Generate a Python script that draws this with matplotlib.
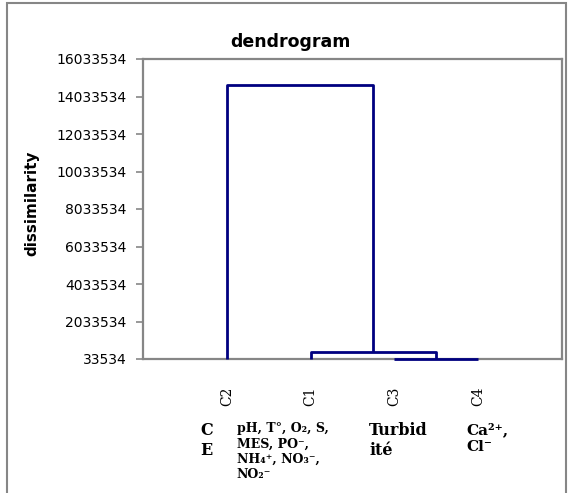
import matplotlib
matplotlib.use("Agg")
import matplotlib.pyplot as plt
import matplotlib.transforms as mtransforms
from matplotlib.patches import Rectangle
import numpy as np

# leaf order along the x axis
leaves = ["C2", "C1", "C3", "C4"]
# merges: (child a, child b, height); new nodes get index len(leaves), len(leaves)+1, ...
merge_a = [2, 1, 0]
merge_b = [3, 4, 5]
merge_h = [60000, 420000, 14630000]

y_min = 33534
y_max = 16033534
y_step = 2000000

group_labels = ["C\nE",
                "pH, T°, O₂, S,\nMES, PO⁻,\nNH₄⁺, NO₃⁻,\nNO₂⁻",
                "Turbid\nité",
                "Ca²⁺,\nCl⁻"]
group_x = [0.68, 1.12, 2.7, 3.86]
group_size = [11.5, 9, 11.5, 11]

W, H = 569, 493
fig = plt.figure(figsize=(W / 100, H / 100), dpi=100)
ax = fig.add_axes([143 / W, 1 - 359 / H, (562 - 143) / W, (359 - 59) / H])

# node coordinates
xs = [i + 1 for i in range(len(leaves))]
ys = [y_min] * len(leaves)
for a, b, h in zip(merge_a, merge_b, merge_h):
    ax.plot([xs[a], xs[a], xs[b], xs[b]], [ys[a], h, h, ys[b]],
            color="#000080", lw=2.0, solid_capstyle="butt", zorder=3,
            clip_on=False)
    xs.append((xs[a] + xs[b]) / 2)
    ys.append(h)

ax.set_xlim(0, len(leaves) + 1)
ax.set_ylim(y_min, y_max)
ticks = np.arange(y_min, y_max + 1, y_step)
ax.set_yticks(ticks)
ax.set_yticklabels([str(int(t)) for t in ticks], fontsize=10, family="DejaVu Sans")
ax.tick_params(axis="y", length=5, width=1.2, color="#868686", pad=7)

ax.set_xticks(range(1, len(leaves) + 1))
ax.set_xticklabels(leaves, rotation=90, family="DejaVu Serif", fontsize=10)
ax.tick_params(axis="x", length=0, pad=27)
for lab in ax.get_xticklabels():
    lab.set_va("center")

for s in ax.spines.values():
    s.set_color("#868686")
    s.set_linewidth(1.6)
    s.set_zorder(2)

fig.text(290 / W, 1 - 42 / H, "dendrogram", ha="center", va="center",
         fontsize=12.5, fontweight="bold", family="DejaVu Sans")
fig.text(32 / W, 1 - 203 / H, "dissimilarity", ha="center", va="center",
         rotation=90, fontsize=11, fontweight="bold", family="DejaVu Sans")

trans = mtransforms.blended_transform_factory(ax.transData, fig.transFigure)
for lab, gx, fs in zip(group_labels, group_x, group_size):
    ax.text(gx, 1 - 422 / H, lab, transform=trans, ha="left", va="top",
            fontsize=fs, fontweight="bold", family="DejaVu Serif",
            linespacing=1.25, clip_on=False)

# outer chart frame
fig.patches.append(Rectangle((7 / W, -0.05), (566 - 7) / W, 1.05 - 3 / H,
                             transform=fig.transFigure, fill=False,
                             edgecolor="#868686", lw=1.5))

fig.savefig("out.png", dpi=100)
